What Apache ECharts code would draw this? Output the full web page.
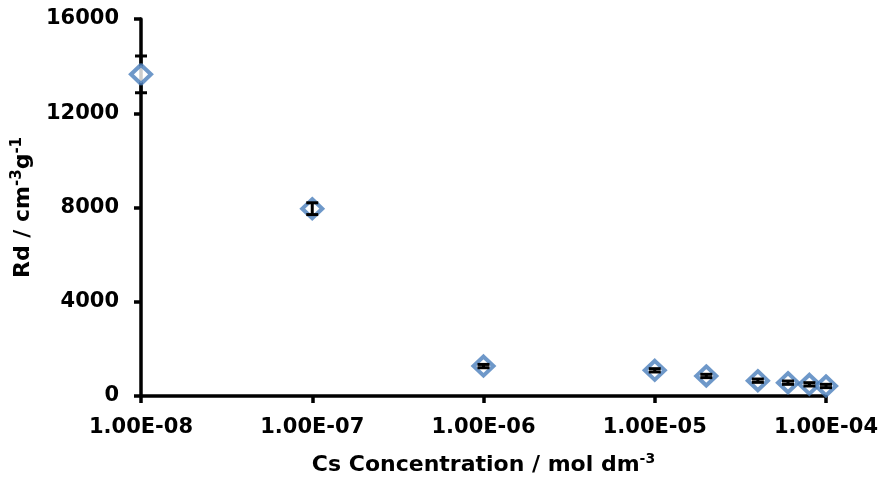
<!DOCTYPE html>
<html>
<head>
<meta charset="utf-8">
<script src="https://cdn.jsdelivr.net/npm/echarts@6/dist/echarts.min.js"></script>
<style>
html,body{margin:0;padding:0;background:#fff;}
#chart{width:886px;height:484px;}
</style>
</head>
<body>
<div id="chart"></div>
<script>
// Data
const concentrations = [1e-8, 1e-7, 1e-6, 1e-5, 2e-5, 4e-5, 6e-5, 8e-5, 1e-4];
const rdValues = [13650, 7950, 1270, 1090, 850, 650, 565, 495, 425];
const rdErrors = [780, 250, 70, 70, 70, 70, 70, 70, 70];
const xTickLabels = ['1.00E-08', '1.00E-07', '1.00E-06', '1.00E-05', '1.00E-04'];
const yTicks = [0, 4000, 8000, 12000, 16000];

const FONT = '"DejaVu Sans", "Liberation Sans", sans-serif';
const chart = echarts.init(document.getElementById('chart'));

const points = concentrations.map((c, i) => [c, rdValues[i]]);
const errs = concentrations.map((c, i) => [c, rdValues[i], rdErrors[i]]);

chart.setOption({
  animation: false,
  backgroundColor: '#fff',
  grid: { left: 141, right: 60, top: 19, bottom: 88, containLabel: false },
  xAxis: {
    type: 'log',
    logBase: 10,
    min: 1e-8,
    max: 1e-4,
    name: '{a|Cs Concentration / mol dm}{s|-3}',
    nameLocation: 'middle',
    nameGap: 56,
    nameTextStyle: {
      rich: {
        a: { fontFamily: FONT, fontWeight: 'bold', fontSize: 22, color: '#000', lineHeight: 26 },
        s: { fontFamily: FONT, fontWeight: 'bold', fontSize: 14, color: '#000', verticalAlign: 'top', lineHeight: 26, padding: [0, 0, 10, 0] }
      }
    },
    axisLine: { show: true, onZero: false, lineStyle: { color: '#000', width: 3.5 } },
    axisTick: { show: true, inside: false, length: 7, lineStyle: { color: '#000', width: 3.5 } },
    minorTick: { show: false },
    splitLine: { show: false },
    axisLabel: {
      margin: 21,
      fontFamily: FONT,
      fontWeight: 'bold',
      fontSize: 21,
      color: '#000',
      formatter: v => xTickLabels[Math.round(Math.log10(v)) + 8]
    }
  },
  yAxis: {
    type: 'value',
    min: yTicks[0],
    max: yTicks[yTicks.length - 1],
    interval: 4000,
    name: '{a|Rd / cm}{s|-3}{a|g}{s|-1}',
    nameLocation: 'middle',
    nameRotate: 90,
    nameGap: 104,
    nameTextStyle: {
      rich: {
        a: { fontFamily: FONT, fontWeight: 'bold', fontSize: 22, color: '#000', lineHeight: 26 },
        s: { fontFamily: FONT, fontWeight: 'bold', fontSize: 15, color: '#000', verticalAlign: 'top', lineHeight: 26, padding: [0, 0, 10, 0] }
      }
    },
    axisLine: { show: true, lineStyle: { color: '#000', width: 3.5 } },
    axisTick: { show: true, inside: false, length: 7, lineStyle: { color: '#000', width: 3.5 } },
    splitLine: { show: false },
    axisLabel: {
      margin: 22,
      fontFamily: FONT,
      fontWeight: 'bold',
      fontSize: 21,
      color: '#000',
      formatter: v => String(v)
    }
  },
  series: [
    {
      type: 'scatter',
      data: points,
      symbol: 'diamond',
      symbolSize: [20, 19],
      clip: false,
      z: 2,
      itemStyle: { color: '#fff', borderColor: '#4A7EBB', borderWidth: 4 }
    },
    {
      type: 'custom',
      data: errs,
      z: 3,
      clip: false,
      renderItem: function (params, api) {
        const x = api.value(0), y = api.value(1), e = api.value(2);
        const c = api.coord([x, y]);
        const top = api.coord([x, y + e]);
        const bot = api.coord([x, y - e]);
        const hw = 6;
        const style = { stroke: '#000', lineWidth: 3 };
        const children = [];
        const half = 11;
        if (bot[1] - c[1] > half) {
          children.push({ type: 'line', shape: { x1: c[0], y1: top[1], x2: c[0], y2: c[1] - half }, style });
          children.push({ type: 'line', shape: { x1: c[0], y1: c[1] + half, x2: c[0], y2: bot[1] }, style });
        } else {
          children.push({ type: 'line', shape: { x1: c[0], y1: top[1], x2: c[0], y2: bot[1] }, style });
        }
        children.push({ type: 'line', shape: { x1: c[0] - hw, y1: top[1], x2: c[0] + hw, y2: top[1] }, style });
        children.push({ type: 'line', shape: { x1: c[0] - hw, y1: bot[1], x2: c[0] + hw, y2: bot[1] }, style });
        return { type: 'group', children };
      }
    }
  ]
});
</script>
</body>
</html>
